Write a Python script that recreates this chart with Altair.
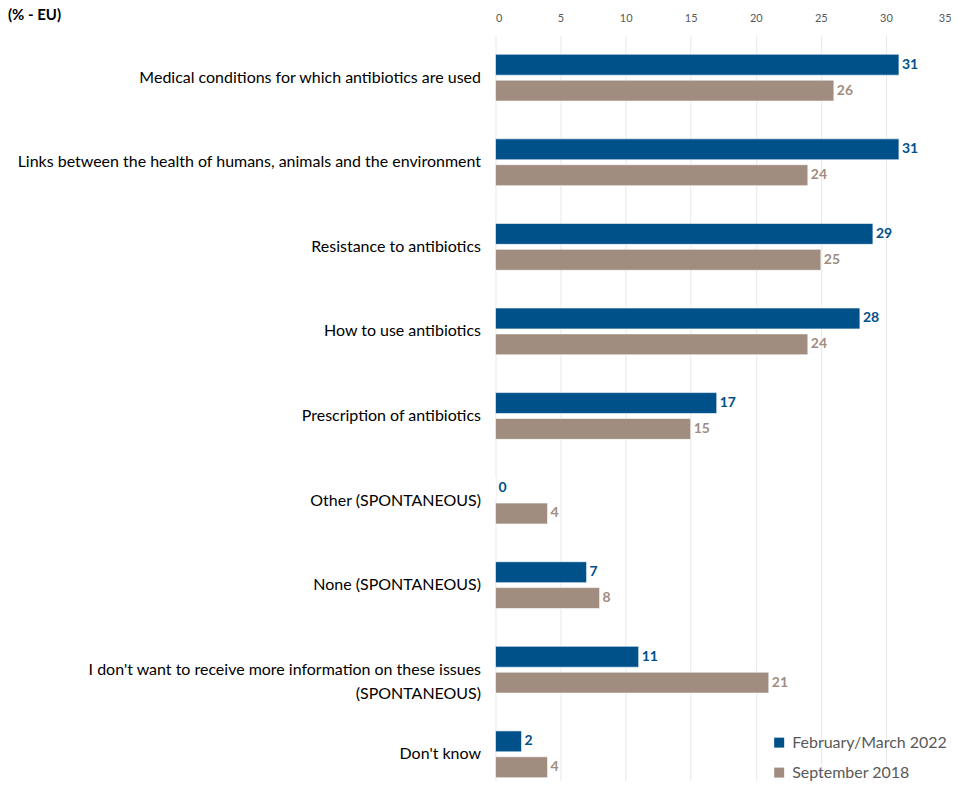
import altair as alt
import pandas as pd

categories = [
    "Medical conditions for which antibiotics are used",
    "Links between the health of humans, animals and the environment",
    "Resistance to antibiotics",
    "How to use antibiotics",
    "Prescription of antibiotics",
    "Other (SPONTANEOUS)",
    "None (SPONTANEOUS)",
    "I don't want to receive more information on these issues|(SPONTANEOUS)",
    "Don't know",
]
series = ["February/March 2022", "September 2018"]
v2022 = [31, 31, 29, 28, 17, 0, 7, 11, 2]
v2018 = [26, 24, 25, 24, 15, 4, 8, 21, 4]
colors = ["#00508A", "#A08D80"]
ticks = [0, 5, 10, 15, 20, 25, 30, 35]

rows = []
for c, a, b in zip(categories, v2022, v2018):
    rows.append({"cat": c, "series": series[0], "value": a})
    rows.append({"cat": c, "series": series[1], "value": b})
df = pd.DataFrame(rows)

FONT = "Lato"

y_enc = alt.Y(
    "cat:N",
    sort=categories,
    title=None,
    scale=alt.Scale(range=[0, 762], paddingInner=0, paddingOuter=0),
    axis=alt.Axis(
        domain=False,
        ticks=False,
        labelPadding=15,
        labelFontSize=16,
        labelColor="#000000",
        labelFont=FONT,
        labelLimit=1000,
        labelLineHeight=24,
        labelExpr="split(datum.label, '|')",
    ),
)
yoff = alt.YOffset(
    "series:N",
    sort=series,
    scale=alt.Scale(paddingInner=0.192, paddingOuter=0.73),
)
color_scale = alt.Scale(domain=series, range=colors)

bars = alt.Chart(df).mark_bar(stroke="white", strokeWidth=0.6).encode(
    y=y_enc,
    yOffset=yoff,
    x=alt.X(
        "value:Q",
        title=None,
        scale=alt.Scale(domain=[0, 35], nice=False),
        axis=alt.Axis(
            orient="top",
            values=ticks,
            domain=False,
            ticks=False,
            labelFontSize=11,
            labelColor="#595959",
            labelFont=FONT,
            labelPadding=12,
            gridColor="#E8E8E8",
            gridWidth=1,
        ),
    ),
    color=alt.Color(
        "series:N",
        sort=series,
        scale=color_scale,
        title=None,
        legend=alt.Legend(
            orient="none",
            legendX=276,
            legendY=700,
            symbolType="square",
            symbolSize=100,
            symbolStrokeWidth=0,
            labelFontSize=16,
            labelColor="#595959",
            labelFont=FONT,
            rowPadding=14,
            labelOffset=5,
        ),
    ),
)

labels = alt.Chart(df).mark_text(
    align="left", baseline="middle", dx=3, fontSize=14, fontWeight="bold", font=FONT
).encode(
    y=alt.Y("cat:N", sort=categories),
    yOffset=yoff,
    x="value:Q",
    text="value:Q",
    color=alt.Color("series:N", sort=series, scale=color_scale, legend=None),
)

title = alt.Chart(pd.DataFrame({"t": ["(% - EU)"]})).mark_text(
    align="left", baseline="alphabetic", fontSize=15, fontWeight="bold", font=FONT, color="#000000"
).encode(
    x=alt.value(-488),
    y=alt.value(-15),
    text="t:N",
)

chart = (
    alt.layer(bars, labels, title)
    .properties(
        width=456,
        height=746,
        padding={"left": 488, "top": 27, "right": 0, "bottom": 0},
        autosize=alt.AutoSizeParams(type="none"),
    )
    .configure_view(stroke=None)
)

chart.save("out.html", embed_options={"renderer": "svg", "actions": False})
